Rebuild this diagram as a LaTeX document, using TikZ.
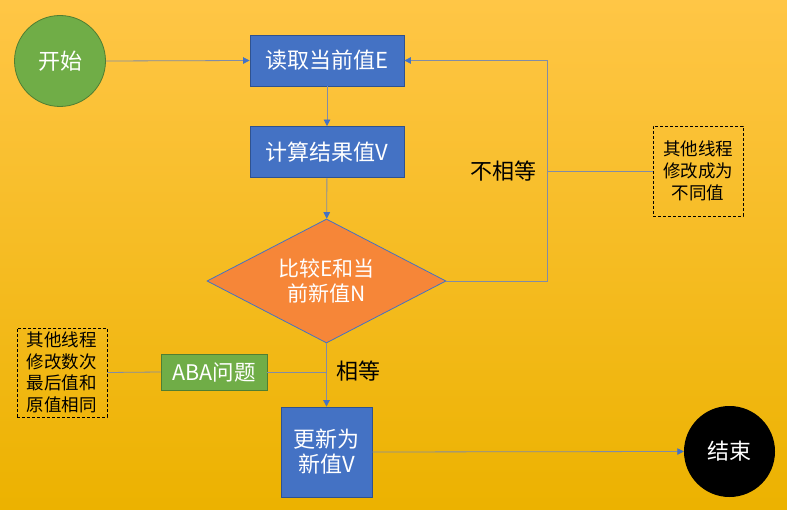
\documentclass[tikz,border=0pt]{standalone}
\usepackage{fontspec}
\newfontfamily\cjk{Noto Sans CJK SC}
\usetikzlibrary{arrows.meta,shapes.geometric}
\definecolor{bgtop}{RGB}{255,198,70}
\definecolor{bgmid}{RGB}{255,192,0}
\definecolor{bgbot}{RGB}{236,178,0}
\definecolor{boxblue}{RGB}{68,114,196}
\definecolor{boxblueline}{RGB}{47,82,143}
\definecolor{okgreen}{RGB}{112,173,71}
\definecolor{okgreenline}{RGB}{80,126,50}
\definecolor{dorange}{RGB}{246,134,56}
\definecolor{conn}{RGB}{130,140,165}
\begin{document}
\begin{tikzpicture}[x=1pt,y=-1pt,
  every node/.style={font=\cjk},
  procbox/.style={draw=boxblueline, fill=boxblue, line width=0.8pt, text=white,
    minimum width=154pt, minimum height=51pt, inner sep=0pt, align=center,
    font=\cjk\fontsize{22}{25}\selectfont},
  termcirc/.style={circle, minimum size=91pt, inner sep=0pt, text=white,
    font=\cjk\fontsize{22}{25}\selectfont},
  notebox/.style={draw=black, dash pattern=on 3pt off 2pt, line width=0.8pt,
    minimum width=90pt, minimum height=90pt, inner sep=0pt, align=center,
    font=\cjk\fontsize{17.5}{21.7}\selectfont},
  lbl/.style={text=black, font=\cjk\fontsize{22}{25}\selectfont, inner sep=0pt},
  connline/.style={draw=conn, line width=0.8pt, -{Triangle[length=6.5pt,width=6.5pt,color=boxblue]}},
  plainline/.style={draw=conn, line width=0.8pt}
]
\useasboundingbox (0,0) rectangle (787,510);
\shade[top color=bgtop, middle color=bgmid, bottom color=bgbot] (0,0) rectangle (787,510);

\node[termcirc, fill=okgreen, draw=okgreenline, line width=0.8pt] (start) at (60,61) {开始};
\node[procbox] (read) at (327,60.5) {读取当前值E};
\node[procbox] (calc) at (327,152) {计算结果值V};
\node[diamond, draw=boxblue, line width=0.8pt, fill=dorange, text=white,
  minimum width=239pt, minimum height=124pt, aspect=1.93, inner sep=0pt, align=center,
  font=\cjk\fontsize{21}{25}\selectfont] (cmp) at (326.5,281) {比较E和当\\前新值N};
\node[procbox, minimum width=91pt, minimum height=90pt] (upd) at (326.5,452) {更新为\\新值V};
\node[termcirc, fill=black] (end) at (729.5,451.5) {结束};
\node[notebox] (noteA) at (698,171) {其他线程\\修改成为\\不同值};
\node[notebox, minimum height=89pt] (noteB) at (62,372.5) {其他线程\\修改数次\\最后值和\\原值相同};
\node[draw=okgreenline, fill=okgreen, line width=0.8pt, text=white, minimum width=106pt,
  minimum height=36pt, inner sep=0pt, font=\cjk\fontsize{21.5}{25}\selectfont] (aba) at (214,372) {ABA问题};
\node[lbl] (neq) at (503,171) {不相等};
\node[lbl] (eq) at (358,371) {相等};

\coordinate (loop) at (547,281);
\draw[connline] (start.east) -- (read.west);
\draw[connline] (read) -- (calc);
\draw[connline] (calc) -- (cmp);
\draw[connline] (cmp.east) -- (loop) |- (read.east);
\draw[plainline] (noteA.west) -- (noteA.west -| loop);
\draw[connline] (cmp.south) -- (upd.north);
\draw[plainline] (aba.east) -- (aba.east -| cmp.south);
\draw[plainline] (noteB.east) -- (aba.west);
\draw[connline] (upd.east) -- (end.west);
\end{tikzpicture}
\end{document}
